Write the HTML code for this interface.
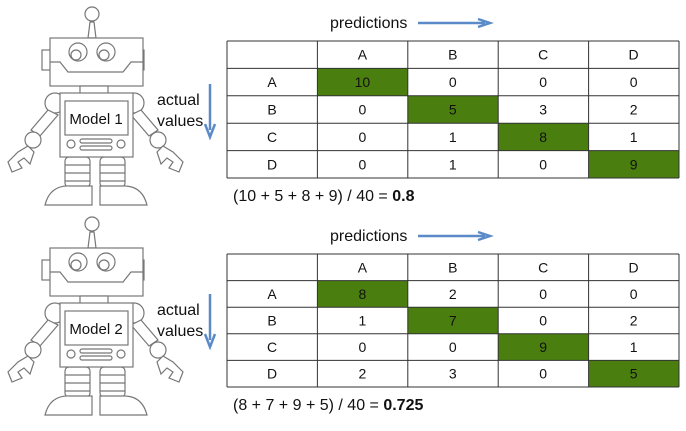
<!DOCTYPE html>
<html><head><meta charset="utf-8">
<style>
body{margin:0;background:#fff;width:686px;height:426px;overflow:hidden;font-family:"Liberation Sans",sans-serif;}
svg text{font-family:"Liberation Sans",sans-serif;}
</style></head>
<body>
<svg id="s" width="686" height="426" viewBox="0 0 686 426" xmlns="http://www.w3.org/2000/svg">
<defs>
<g id="robot" fill="#fff" stroke="#777" stroke-width="1.2">
  <line x1="92" y1="20" x2="92" y2="38"/>
  <polygon points="88,38 96,38 94,22 90,22"/>
  <circle cx="92" cy="14" r="7"/>
  <rect x="42" y="50" width="9" height="20"/>
  <rect x="135" y="50" width="9" height="20"/>
  <rect x="50" y="38" width="93" height="48"/>
  <polyline points="50,62 60,62 68,72 123,72 131,62 143,62" fill="none"/>
  <circle cx="78" cy="52" r="9"/><circle cx="76" cy="55" r="5"/>
  <circle cx="106" cy="52" r="9"/><circle cx="104" cy="55" r="5"/>
  <rect x="80" y="86" width="28" height="8"/>
  <circle cx="55" cy="103" r="10"/><circle cx="134" cy="103" r="10"/>
  <polygon points="48,110 58,115 40,136 31,130"/>
  <polygon points="141,110 131,115 149,136 158,130"/>
  <circle cx="33" cy="140" r="8"/><circle cx="158" cy="140" r="8"/>
  <path d="M28,146 L18,152 L8,162 L12,172 L22,168 L18,162 L24,158 L30,164 L34,152 Z"/>
  <path d="M163,146 L173,152 L183,162 L179,172 L169,168 L173,162 L167,158 L161,164 L157,152 Z"/>
  <rect x="65" y="157" width="25" height="30" rx="4"/>
  <rect x="100" y="157" width="25" height="30" rx="4"/>
  <line x1="65" y1="165" x2="90" y2="165"/><line x1="65" y1="173" x2="90" y2="173"/><line x1="65" y1="181" x2="90" y2="181"/>
  <line x1="100" y1="165" x2="125" y2="165"/><line x1="100" y1="173" x2="125" y2="173"/><line x1="100" y1="181" x2="125" y2="181"/>
  <path d="M45,205 Q50,185 70,186 L92,186 L92,205 Z"/>
  <path d="M100,205 L100,186 L122,186 Q142,185 147,205 Z"/>
  <rect x="60" y="93" width="73" height="64"/>
  <rect x="65" y="101" width="63" height="34"/>
  <circle cx="71" cy="144" r="4"/><circle cx="121" cy="144" r="4"/>
  <rect x="80" y="139" width="32" height="4" rx="2"/>
  <rect x="80" y="146" width="32" height="4" rx="2"/>
</g>
</defs>
<g id="content"></g>
</svg>
<script>
const rowLabels=["A","B","C","D"];
const colLabels=["A","B","C","D"];
const model1Values=[[10,0,0,0],[0,5,3,2],[0,1,8,1],[0,1,0,9]];
const model2Values=[[8,2,0,0],[1,7,0,2],[0,0,9,1],[2,3,0,5]];
const modelNames=["Model 1","Model 2"];
const accuracyText=["0.8","0.725"];

const NS="http://www.w3.org/2000/svg";
const root=document.getElementById('content');
function mk(tag,attrs,parent){const e=document.createElementNS(NS,tag);for(const k in attrs)e.setAttribute(k,attrs[k]);(parent||root).appendChild(e);return e;}
const colX=i=>227+i*90.4;
const panels=[{dy:0,top:41,rh:27.4,vals:model1Values},{dy:210,top:254,rh:26.6,vals:model2Values}];
panels.forEach((p,pi)=>{
  const g=mk('g',{});
  
  
  const r=mk('use',{href:'#robot',transform:'translate(0,'+p.dy+')'},g);
  
  
  const mn=mk('text',{x:96,y:124+p.dy,'font-size':15,'text-anchor':'middle',fill:'#111'},g);
  mn.textContent=modelNames[pi];
  
  
  const a1=mk('text',{x:157,y:105+p.dy,'font-size':16,fill:'#111'},g);a1.textContent='actual';
  
  
  const a2=mk('text',{x:157,y:126+p.dy,'font-size':16,fill:'#111'},g);a2.textContent='values';
  
  
  const va=mk('path',{d:`M210,${84+p.dy} L210,${130+p.dy} M205,${124+p.dy} L210,${137+p.dy} L215,${124+p.dy}`,stroke:'#5b8ac9','stroke-width':2.5,fill:'none'},g);
  
  
  const pt=p.top-11;
  const pr=mk('text',{x:330,y:pt-2,'font-size':16,fill:'#111'},g);pr.textContent='predictions';
  
  
  const ha=mk('path',{d:`M418,${pt-7} L485,${pt-7} M478,${pt-11} L490,${pt-7} L478,${pt-3}`,stroke:'#5b8ac9','stroke-width':2.5,fill:'none'},g);
  
  
  const rowY=i=>p.top+i*p.rh;
  for(let i=0;i<4;i++){
    const ch=mk('text',{x:colX(i+1)+45,y:rowY(0)+p.rh/2+5,'font-size':14,'text-anchor':'middle',fill:'#111'},g);
    ch.textContent=colLabels[i];
    
    
    const rl=mk('text',{x:colX(0)+45,y:rowY(i+1)+p.rh/2+5,'font-size':14,'text-anchor':'middle',fill:'#111'},g);
    rl.textContent=rowLabels[i];
    
    
    for(let j=0;j<4;j++){
      if(i===j){
        const c=mk('rect',{x:colX(j+1),y:rowY(i+1),width:90.4,height:p.rh,fill:'#4a7f10'},g);
        
        
      }
      const t=mk('text',{x:colX(j+1)+45,y:rowY(i+1)+p.rh/2+5,'font-size':14,'text-anchor':'middle',fill:'#111'},g);
      t.textContent=p.vals[i][j];
      
      
    }
  }
  for(let k=0;k<=5;k++){
    const l=mk('line',{x1:colX(0),x2:colX(5),y1:rowY(k),y2:rowY(k),stroke:'#333','stroke-width':1},g);
    
    
    const v=mk('line',{x1:colX(k),x2:colX(k),y1:rowY(0),y2:rowY(5),stroke:'#333','stroke-width':1},g);
    
    
  }
  const diag=p.vals.map((r,i)=>r[i]);
  const total=p.vals.flat().reduce((a,b)=>a+b,0);
  const eq=mk('text',{x:233,y:rowY(5)+23,'font-size':16,fill:'#111'},g);
  eq.textContent='('+diag.join(' + ')+') / '+total+' = ';
  const b=mk('tspan',{'font-weight':'bold'},eq);b.textContent=accuracyText[pi];
  
  
});
</script>
</body></html>
